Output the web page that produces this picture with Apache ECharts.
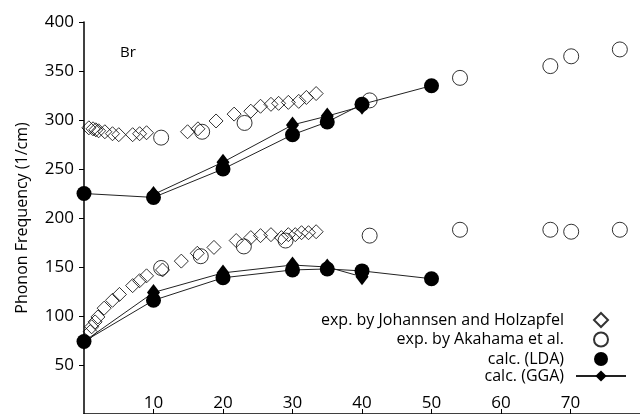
<!DOCTYPE html>
<html>
<head>
<meta charset="utf-8">
<script src="https://cdn.jsdelivr.net/npm/echarts@6/dist/echarts.min.js"></script>
<style>
  html, body { margin: 0; padding: 0; background: #fff; }
  #chart { width: 640px; height: 414px; }
</style>
</head>
<body>
<div id="chart"></div>
<script>
// exp. by Johannsen and Holzapfel (open diamonds)
var johUpper = [[0.7, 292], [1.3, 291], [1.7, 290], [2.1, 289], [3.0, 288], [4.1, 286], [5.0, 285],
  [7.0, 285], [8.0, 286], [9.0, 287], [14.9, 288], [16.4, 291], [19.0, 299], [21.6, 306], [24.0, 309],
  [25.4, 314], [26.9, 316], [28.0, 317], [29.4, 318], [30.9, 319], [32.0, 323], [33.4, 327]];
var johLower = [[0.9, 84], [1.1, 89], [1.6, 94], [2.0, 99], [2.9, 108], [4.1, 116], [5.1, 122],
  [7.0, 131], [8.0, 136], [9.0, 141], [11.3, 147], [14.0, 156], [16.3, 164], [18.7, 170], [21.9, 177],
  [24.0, 180], [25.4, 182], [26.9, 183], [28.4, 180], [29.4, 183], [30.4, 183], [31.3, 185],
  [32.3, 185], [33.4, 186]];
// exp. by Akahama et al. (open circles)
var akaUpper = [[11.1, 282], [17.0, 288], [23.1, 297], [41.1, 320], [54.1, 343], [67.1, 355], [70.1, 365], [77.1, 372]];
var akaLower = [[11.1, 149], [16.8, 161], [23.0, 171], [29.0, 177], [41.1, 182], [54.1, 188], [67.1, 188], [70.1, 186], [77.1, 188]];
// calc. (LDA)
var ldaUpper = [[0, 225], [10, 221], [20, 250], [30, 285], [35, 298], [40, 316], [50, 335]];
var ldaLower = [[0, 74], [10, 116], [20, 139], [30, 147], [35, 148], [40, 146], [50, 138]];
// calc. (GGA)
var ggaUpper = [[10, 224], [20, 257], [30, 295], [35, 304], [40, 314]];
var ggaLower = [[0, 74], [10, 124], [20, 144], [30, 152], [35, 150], [40, 140]];

var names = ['exp. by Johannsen and Holzapfel', 'exp. by Akahama et al.', 'calc. (LDA)', 'calc. (GGA)'];

var chart = echarts.init(document.getElementById('chart'));
var font = 'Open Sans';

var openStyle = { color: 'transparent', borderColor: '#000', borderWidth: 1 };
function calcLine(name, data, symbol, size) {
  return {
    name: name,
    type: 'line',
    data: data,
    symbol: symbol,
    symbolSize: size,
    showAllSymbol: true,
    itemStyle: { color: '#000' },
    lineStyle: { color: '#222', width: 1 },
    z: 3
  };
}
var legendText = { fontFamily: font, fontSize: 16, color: '#000', lineHeight: 16 };

var option = {
  animation: false,
  backgroundColor: '#fff',
  grid: { left: 84, top: 22, width: 560, height: 395.5 },
  xAxis: [{
    type: 'value', min: 0, max: 80, interval: 10,
    axisLine: { show: false },
    axisTick: { inside: true, length: 5, lineStyle: { color: '#000' } },
    axisLabel: { inside: true, margin: 2, showMinLabel: false, showMaxLabel: false,
      fontFamily: font, fontSize: 17, color: '#000' },
    splitLine: { show: false }
  }, {
    type: 'value', min: 0, max: 80, interval: 10, position: 'top',
    axisLine: { show: true, lineStyle: { color: '#000', width: 1.5 } },
    axisTick: { inside: true, length: 5, lineStyle: { color: '#000' } },
    axisLabel: { show: false },
    splitLine: { show: false }
  }],
  yAxis: [{
    type: 'value', min: 0, max: 400, interval: 50,
    name: 'Phonon Frequency (1/cm)', nameLocation: 'middle', nameGap: 54,
    nameTextStyle: { fontFamily: font, fontSize: 16, color: '#000' },
    axisLine: { show: true, lineStyle: { color: '#000', width: 1.5 } },
    axisTick: { length: 4, lineStyle: { color: '#000' } },
    axisLabel: { margin: 10, showMinLabel: false, fontFamily: font, fontSize: 17, color: '#000' },
    splitLine: { show: false }
  }, {
    type: 'value', min: 0, max: 400, interval: 50, position: 'right',
    axisLine: { show: false },
    axisTick: { inside: true, length: 5, lineStyle: { color: '#000' } },
    axisLabel: { show: false },
    splitLine: { show: false }
  }],
  legend: [{
    orient: 'vertical', align: 'right', right: 26, top: 307,
    itemWidth: 14, itemHeight: 14, itemGap: 3.5,
    textStyle: Object.assign({ padding: [0, 25, 0, 0] }, legendText),
    data: [
      { name: names[0], icon: 'diamond' },
      { name: names[1], icon: 'circle' },
      { name: names[2], icon: 'circle' }
    ]
  }, {
    orient: 'vertical', align: 'right', right: 8, top: 363,
    itemWidth: 50, itemHeight: 14,
    textStyle: Object.assign({ padding: [0, 7, 0, 0] }, legendText),
    data: [{ name: names[3] }]
  }],
  graphic: [{
    type: 'text', left: 120, top: 45,
    style: { text: 'Br', fontFamily: font, fontSize: 15, fill: '#000' }
  }],
  series: [
    { name: names[0], type: 'scatter', symbol: 'diamond', symbolSize: 14,
      data: johUpper.concat(johLower), itemStyle: openStyle },
    { name: names[1], type: 'scatter', symbol: 'circle', symbolSize: 15,
      data: akaUpper.concat(akaLower), itemStyle: openStyle },
    calcLine(names[2], ldaUpper, 'circle', 15),
    calcLine(names[2], ldaLower, 'circle', 15),
    calcLine(names[3], ggaUpper, 'diamond', [13, 17]),
    calcLine(names[3], ggaLower, 'diamond', [13, 17])
  ]
};

chart.setOption(option);
</script>
</body>
</html>
